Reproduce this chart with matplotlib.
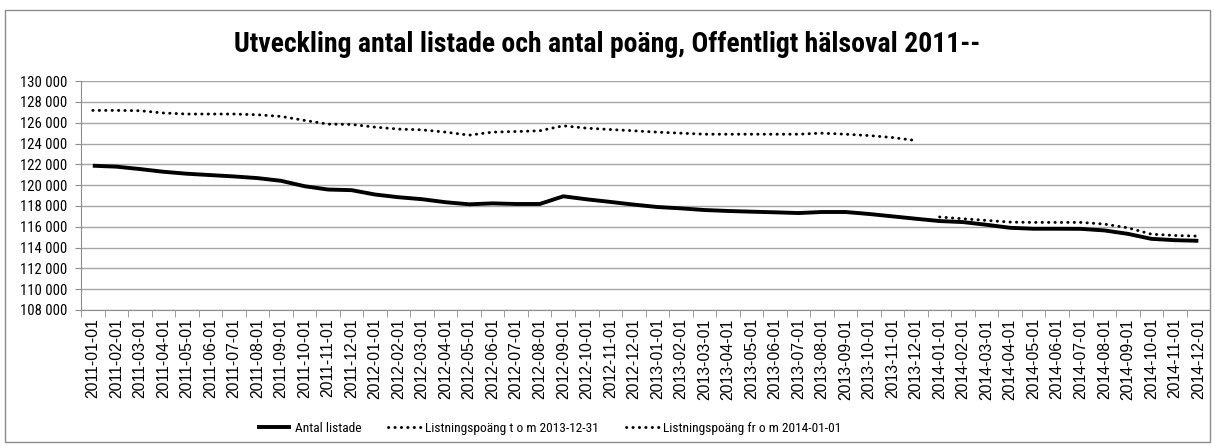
import matplotlib
matplotlib.use("Agg")
import matplotlib.pyplot as plt
from matplotlib import font_manager
from matplotlib.patches import Rectangle
from matplotlib.ticker import FuncFormatter, FixedLocator
import numpy as np

months = [f"{y}-{m:02d}-01" for y in (2011, 2012, 2013, 2014) for m in range(1, 13)]

antal_listade = [
    121870, 121780, 121550, 121290, 121100, 120970, 120840, 120680,
    120420, 119900, 119580, 119520, 119100, 118840, 118650, 118360,
    118160, 118250, 118190, 118190, 118930, 118640, 118390, 118130,
    117900, 117770, 117610, 117520, 117450, 117390, 117320, 117420,
    117420, 117230, 117000, 116770, 116550, 116450, 116190, 115900,
    115810, 115810, 115800, 115650, 115320, 114840, 114710, 114650,
]

poang_tom_2013 = [
    127190, 127190, 127160, 126940, 126840, 126840, 126840, 126770,
    126610, 126230, 125870, 125840, 125580, 125390, 125320, 125100,
    124810, 125100, 125160, 125230, 125710, 125480, 125350, 125230,
    125100, 125000, 124900, 124900, 124900, 124900, 124900, 125000,
    124900, 124770, 124580, 124290,
] + [np.nan] * 12

poang_from_2014 = [np.nan] * 36 + [
    116940, 116770, 116610, 116450, 116420, 116420, 116420, 116260,
    115900, 115290, 115160, 115100,
]

title = "Utveckling antal listade och antal poäng, Offentligt hälsoval 2011--"
labels = ["Antal listade", "Listningspoäng t o m 2013-12-31", "Listningspoäng fr o m 2014-01-01"]

# look for a narrow face, else fall back to Liberation Sans
names = {f.name for f in font_manager.fontManager.ttflist}
narrow_name = next((n for n in ("Liberation Sans Narrow", "DejaVu Sans Condensed",
                                "Roboto Condensed", "Open Sans Condensed")
                    if n in names), "Liberation Sans")
narrow = [narrow_name, "DejaVu Sans"]
plt.rcParams["font.family"] = ["Liberation Sans", "DejaVu Sans"]

fig = plt.figure(figsize=(12.15, 4.46), dpi=100)
fig.patches.append(Rectangle((0.004, 0.01), 0.992, 0.968, transform=fig.transFigure,
                             fill=False, edgecolor="#8c8c8c", linewidth=1.0))

ax = fig.add_axes([0.0667, 0.305, 0.9293, 0.513])
x = np.arange(len(months))

dot = (0, (0.1, 2.1))
ax.plot(x, antal_listade, color="black", lw=2.8, solid_joinstyle="round",
        solid_capstyle="butt", label=labels[0])
ax.plot(x, poang_tom_2013, color="black", lw=2.1, linestyle=dot,
        dash_capstyle="round", label=labels[1])
ax.plot(x, poang_from_2014, color="black", lw=2.1, linestyle=dot,
        dash_capstyle="round", label=labels[2])

ax.set_xlim(-0.5, len(months) - 0.5)
ax.set_ylim(108000, 130000)
ax.set_yticks(np.arange(108000, 130001, 2000))
ax.yaxis.set_major_formatter(FuncFormatter(lambda v, p: f"{int(v):,}".replace(",", " ")))
for t in ax.get_yticklabels():
    t.set_fontfamily(narrow)
    t.set_fontsize(10.5)

ax.set_xticks(x)
ax.set_xticklabels(months, rotation=90, fontsize=11.3)
ax.xaxis.set_minor_locator(FixedLocator(np.arange(-0.5, len(months), 1.0)))
ax.tick_params(axis="x", which="major", length=0, pad=6)
ax.tick_params(axis="x", which="minor", length=5, color="#8c8c8c")
ax.tick_params(axis="y", length=4, color="#8c8c8c", pad=6)

ax.grid(axis="y", color="#a6a6a6", linewidth=1.0)
ax.set_axisbelow(True)
for s in ("top", "right"):
    ax.spines[s].set_visible(False)
for s in ("left", "bottom"):
    ax.spines[s].set_color("#8c8c8c")

fig.text(0.5, 0.9, title, ha="center", va="center", fontsize=20,
         fontweight="bold", family=narrow)

fig.legend(loc="center", bbox_to_anchor=(0.452, 0.04), ncol=3, frameon=False,
           prop={"family": narrow, "size": 9.6}, handlelength=2.5,
           handletextpad=0.3, columnspacing=2.0)

fig.savefig("out.png", dpi=100)
